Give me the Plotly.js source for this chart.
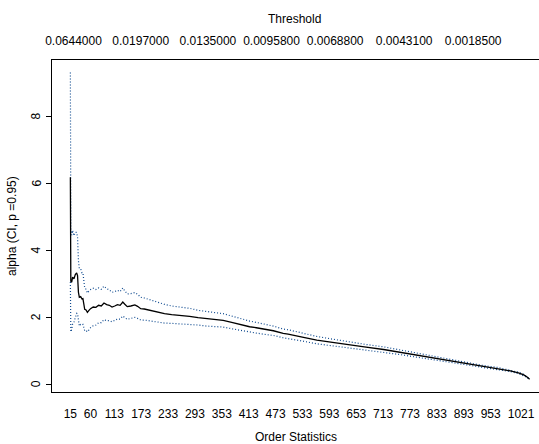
<!DOCTYPE html>
<html>
<head>
<meta charset="utf-8">
<script src="https://cdn.plot.ly/plotly-3.0.1.min.js"></script>
<style>
html, body { margin: 0; padding: 0; overflow: hidden; background: #fff; width: 539px; height: 444px; }
#chart { width: 558px; height: 444px; }
</style>
</head>
<body>
<div id="chart"></div>
<script>
// Order statistics (k) sampled along the Hill plot
const orderStats = [15,16,18,20,23,26,29,31,33,35,38,41,43,45,47,50,53,56,60,66,72,78,84,90,96,102,108,114,120,126,132,136,142,150,159,165,172,180,189,200,211,225,241,260,281,300,319,340,356,375,393,415,430,450,468,490,501,530,565,600,639,675,714,750,788,825,863,900,937,970,997,1015,1027,1035,1040];
// Hill estimate of alpha
const alphaHat = [6.19,3.08,3.05,3.20,3.15,3.28,3.33,3.25,2.75,2.60,2.62,2.55,2.56,2.30,2.24,2.22,2.15,2.20,2.26,2.31,2.30,2.36,2.34,2.43,2.38,2.36,2.31,2.34,2.38,2.36,2.46,2.40,2.32,2.34,2.37,2.33,2.26,2.25,2.22,2.19,2.14,2.11,2.08,2.06,2.03,1.99,1.96,1.94,1.91,1.85,1.79,1.72,1.69,1.64,1.60,1.52,1.50,1.42,1.32,1.25,1.17,1.11,1.04,0.96,0.87,0.79,0.70,0.62,0.53,0.47,0.40,0.34,0.28,0.21,0.15];
// Upper 95% confidence bound
const ciUpper = [9.32,4.59,4.46,4.60,4.44,4.54,4.54,4.39,3.69,3.46,3.45,3.33,3.33,2.97,2.88,2.84,2.73,2.78,2.83,2.87,2.83,2.88,2.84,2.93,2.86,2.82,2.75,2.77,2.81,2.77,2.88,2.80,2.70,2.71,2.74,2.69,2.60,2.58,2.54,2.49,2.43,2.39,2.34,2.31,2.27,2.21,2.18,2.15,2.11,2.04,1.97,1.89,1.85,1.79,1.74,1.65,1.63,1.54,1.43,1.35,1.26,1.19,1.12,1.03,0.93,0.84,0.75,0.66,0.56,0.50,0.42,0.36,0.30,0.22,0.16];
// Lower 95% confidence bound
const ciLower = [3.06,1.57,1.64,1.80,1.86,2.02,2.12,2.11,1.81,1.74,1.79,1.77,1.79,1.63,1.60,1.61,1.57,1.62,1.69,1.75,1.77,1.84,1.84,1.93,1.90,1.90,1.87,1.91,1.95,1.95,2.04,2.00,1.94,1.97,2.00,1.97,1.92,1.92,1.90,1.89,1.85,1.83,1.82,1.81,1.79,1.77,1.74,1.73,1.71,1.66,1.61,1.55,1.53,1.49,1.46,1.39,1.37,1.30,1.21,1.15,1.08,1.03,0.96,0.89,0.81,0.74,0.65,0.58,0.50,0.44,0.38,0.32,0.26,0.20,0.14];

// Bottom axis labels (order statistics)
const bottomTicks = [15,60,113,173,233,293,353,413,473,533,593,653,713,773,833,893,953,1021];
// Top axis: positions (order statistic) and threshold labels
const topTickPos = [22,172,322,464,606,760,914];
const topTickText = ["0.0644000","0.0197000","0.0135000","0.0095800","0.0068800","0.0043100","0.0018500"];
// Left axis ticks
const yTicks = [0,2,4,6,8];

const xRange = [-26, 1081];
const yRange = [-0.23, 9.69];
const ciColor = '#0f4a8f';

const traces = [
  { x: orderStats, y: ciUpper, type: 'scatter', mode: 'lines', line: { color: ciColor, width: 1.2, dash: '1px,2px' }, hoverinfo: 'skip', showlegend: false },
  { x: orderStats, y: ciLower, type: 'scatter', mode: 'lines', line: { color: ciColor, width: 1.2, dash: '1px,2px' }, hoverinfo: 'skip', showlegend: false },
  { x: orderStats, y: alphaHat, type: 'scatter', mode: 'lines', line: { color: '#000', width: 1.3 }, showlegend: false },
  { x: topTickPos, y: topTickPos.map(() => null), xaxis: 'x2', type: 'scatter', mode: 'lines', showlegend: false, hoverinfo: 'skip' }
];

const fnt = { family: 'Liberation Sans, Arial, sans-serif', size: 12, color: '#000' };

const yLabelAnns = yTicks.map(v => ({
  text: String(v), xref: 'paper', yref: 'y', x: -(52-36)/496, y: v,
  xanchor: 'center', yanchor: 'middle', textangle: -90, showarrow: false, font: fnt
}));

const layout = {
  width: 558, height: 444,
  margin: { l: 52, r: 10, t: 60, b: 52 },
  paper_bgcolor: '#fff', plot_bgcolor: '#fff',
  font: fnt,
  showlegend: false,
  xaxis: {
    range: xRange, showgrid: false, zeroline: false,
    showline: true, linecolor: '#000', linewidth: 1, mirror: true,
    tickmode: 'array', tickvals: bottomTicks, ticktext: bottomTicks.map(String),
    ticks: 'outside', ticklen: 11, tickcolor: 'rgba(0,0,0,0)', tickangle: 0,
    tickfont: fnt
  },
  xaxis2: {
    range: xRange, overlaying: 'x', side: 'top', anchor: 'y',
    showgrid: false, zeroline: false, showline: false,
    tickmode: 'array', tickvals: topTickPos, ticktext: topTickText,
    ticks: 'outside', ticklen: 9, tickcolor: 'rgba(0,0,0,0)', tickangle: 0,
    tickfont: fnt
  },
  yaxis: {
    range: yRange, showgrid: false, zeroline: false,
    showline: true, linecolor: '#000', linewidth: 1, mirror: true,
    tickmode: 'array', tickvals: yTicks, showticklabels: false,
    ticks: 'outside', ticklen: 5, tickcolor: '#000'
  },
  annotations: [
    { text: 'Order Statistics', xref: 'paper', yref: 'paper', x: (295.5-52)/496, y: -(437-392)/332, xanchor: 'center', yanchor: 'middle', showarrow: false, font: fnt },
    { text: 'Threshold', xref: 'paper', yref: 'paper', x: (294.5-52)/496, y: 1 + (60-19)/332, xanchor: 'center', yanchor: 'middle', showarrow: false, font: fnt },
    { text: 'alpha (CI, p =0.95)', xref: 'paper', yref: 'paper', x: -(52-12)/496, y: 0.5, xanchor: 'center', yanchor: 'middle', textangle: -90, showarrow: false, font: fnt }
  ].concat(yLabelAnns)
};

Plotly.newPlot('chart', traces, layout, { displayModeBar: false, staticPlot: true });
</script>
</body>
</html>
